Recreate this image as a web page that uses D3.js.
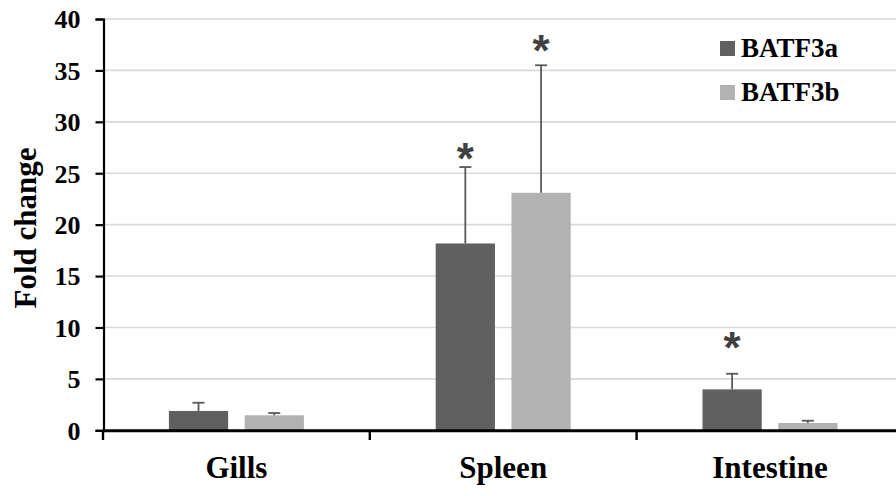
<!DOCTYPE html>
<html>
<head>
<meta charset="utf-8">
<script src="https://cdn.jsdelivr.net/npm/d3@7/dist/d3.min.js"></script>
<style>
  html, body { margin: 0; padding: 0; background: #fff; }
  svg { display: block; }
  text { font-family: "Liberation Serif", "Times New Roman", serif; font-weight: bold; fill: #000; }
</style>
</head>
<body>
<script>
// Tissue groups and the two genes measured in each
const categories = ["Gills", "Spleen", "Intestine"];
const seriesNames = ["BATF3a", "BATF3b"];
const batf3aValues = [1.88, 18.17, 3.98];
const batf3aErrors = [0.80, 7.43, 1.52];
const batf3bValues = [1.46, 23.10, 0.71];
const batf3bErrors = [0.22, 12.40, 0.22];
// Significance marks: [series index, category index, height in fold-change units]
const starMarks = [[0, 1, 27.1], [1, 1, 37.6], [0, 2, 8.7]];
const yTicks = [0, 5, 10, 15, 20, 25, 30, 35, 40];

const colors = { BATF3a: "#606060", BATF3b: "#b2b2b2" };
const errColor = "#595959";

const W = 896, H = 496;
const svg = d3.select("body").append("svg").attr("width", W).attr("height", H);

const rows = categories.map((c, i) => ({
  category: c,
  bars: [
    { series: "BATF3a", value: batf3aValues[i], err: batf3aErrors[i] },
    { series: "BATF3b", value: batf3bValues[i], err: batf3bErrors[i] }
  ]
}));

const x0 = d3.scaleBand().domain(categories).range([103, 103 + 3 * 266.8]).padding(0);
const groupW = 135;
const x1 = d3.scaleBand().domain(seriesNames)
  .range([x0.bandwidth() / 2 - groupW / 2, x0.bandwidth() / 2 + groupW / 2])
  .paddingInner(0.218).paddingOuter(0);
const y = d3.scaleLinear().domain([0, 40]).range([430.3, 19]);

// Horizontal gridlines
svg.append("g").selectAll("line").data(yTicks.filter(t => t > 0)).join("line")
  .attr("x1", 104).attr("x2", W)
  .attr("y1", d => y(d)).attr("y2", d => y(d))
  .attr("stroke", "#d9d9d9").attr("stroke-width", 1.6);

// Y axis
const yAxis = svg.append("g").attr("transform", "translate(103.5,0)")
  .call(d3.axisLeft(y).tickValues(yTicks).tickSize(8).tickPadding(15));
yAxis.select(".domain").attr("stroke", "#000").attr("stroke-width", 2.2);
yAxis.selectAll(".tick line").attr("stroke", "#000").attr("stroke-width", 2.2);
yAxis.selectAll(".tick text").attr("font-size", 26).attr("dy", "0.34em")
  .style("font-family", "'Liberation Serif', 'Times New Roman', serif").style("font-weight", "bold").attr("fill", "#000");

// Bars
const groups = svg.append("g").selectAll("g").data(rows).join("g")
  .attr("transform", d => `translate(${x0(d.category)},0)`);
groups.selectAll("rect").data(d => d.bars).join("rect")
  .attr("x", d => x1(d.series)).attr("width", x1.bandwidth())
  .attr("y", d => y(d.value)).attr("height", d => y(0) - y(d.value))
  .attr("fill", d => colors[d.series]);

// Error bars (upper only)
const eb = groups.selectAll("g.err").data(d => d.bars).join("g").attr("class", "err");
eb.append("line")
  .attr("x1", d => x1(d.series) + x1.bandwidth() / 2).attr("x2", d => x1(d.series) + x1.bandwidth() / 2)
  .attr("y1", d => y(d.value)).attr("y2", d => y(d.value + d.err))
  .attr("stroke", errColor).attr("stroke-width", 1.8);
eb.append("line")
  .attr("x1", d => x1(d.series) + x1.bandwidth() / 2 - 6).attr("x2", d => x1(d.series) + x1.bandwidth() / 2 + 6)
  .attr("y1", d => y(d.value + d.err)).attr("y2", d => y(d.value + d.err))
  .attr("stroke", errColor).attr("stroke-width", 1.8);

// Significance asterisks
const starSize = 44;
svg.append("g").selectAll("text").data(starMarks).join("text")
  .attr("x", d => x0(categories[d[1]]) + x1(seriesNames[d[0]]) + x1.bandwidth() / 2)
  .attr("y", d => y(d[2]) + starSize * 0.50)
  .attr("text-anchor", "middle")
  .attr("font-size", starSize)
  .style("font-family", "'Liberation Sans', Arial, sans-serif")
  .style("font-weight", "bold")
  .style("fill", "#404040")
  .text("*");

// X axis line with ticks at group boundaries
svg.append("line").attr("x1", 103).attr("x2", W).attr("y1", 430.8).attr("y2", 430.8)
  .attr("stroke", "#000").attr("stroke-width", 3);
svg.append("g").selectAll("line").data(categories).join("line")
  .attr("x1", d => x0(d)).attr("x2", d => x0(d))
  .attr("y1", 430).attr("y2", 440)
  .attr("stroke", "#000").attr("stroke-width", 2.4);

// Category labels
svg.append("g").selectAll("text").data(categories).join("text")
  .attr("x", d => x0(d) + x0.bandwidth() / 2).attr("y", 478)
  .attr("text-anchor", "middle").attr("font-size", 31)
  .text(d => d);

// Y axis title
svg.append("text")
  .attr("transform", "translate(36,228) rotate(-90)")
  .attr("text-anchor", "middle").attr("font-size", 31)
  .text("Fold change");

// Legend
const legend = svg.append("g").selectAll("g").data(seriesNames).join("g")
  .attr("transform", (d, i) => `translate(720,${41 + i * 44})`);
legend.append("rect").attr("width", 15).attr("height", 15).attr("fill", d => colors[d]);
legend.append("text").attr("x", 21).attr("y", 16).attr("font-size", 27).text(d => d);
</script>
</body>
</html>
